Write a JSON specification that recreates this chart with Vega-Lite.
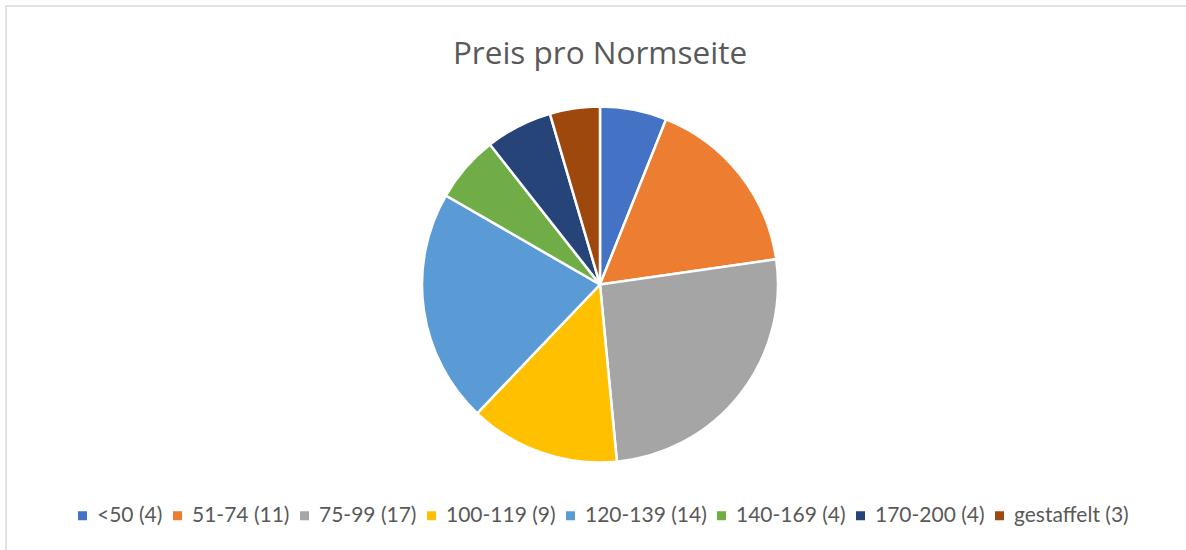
{
  "$schema": "https://vega.github.io/schema/vega-lite/v6.json",
  "width": 1188,
  "height": 557,
  "autosize": {"type": "none"},
  "padding": {"left": 6, "top": 6, "right": 0, "bottom": 0},
  "background": "white",
  "view": {"stroke": "#d9d9d9", "strokeWidth": 1.5},
  "title": {
    "text": "Preis pro Normseite",
    "orient": "top",
    "anchor": "middle",
    "offset": -64,
    "font": "Open Sans",
    "fontSize": 31.5,
    "fontWeight": "normal",
    "color": "#595959"
  },
  "data": {
    "values": [
      {"i": 1, "label": "<50 (4)", "n": 4},
      {"i": 2, "label": "51-74 (11)", "n": 11},
      {"i": 3, "label": "75-99 (17)", "n": 17},
      {"i": 4, "label": "100-119 (9)", "n": 9},
      {"i": 5, "label": "120-139 (14)", "n": 14},
      {"i": 6, "label": "140-169 (4)", "n": 4},
      {"i": 7, "label": "170-200 (4)", "n": 4},
      {"i": 8, "label": "gestaffelt (3)", "n": 3}
    ]
  },
  "mark": {"type": "arc", "radius": 178, "stroke": "white", "strokeWidth": 2.5},
  "encoding": {
    "theta": {"field": "n", "type": "quantitative", "stack": true},
    "order": {"field": "i", "type": "quantitative"},
    "color": {
      "field": "label",
      "type": "nominal",
      "sort": ["<50 (4)", "51-74 (11)", "75-99 (17)", "100-119 (9)", "120-139 (14)", "140-169 (4)", "170-200 (4)", "gestaffelt (3)"],
      "scale": {
        "domain": ["<50 (4)", "51-74 (11)", "75-99 (17)", "100-119 (9)", "120-139 (14)", "140-169 (4)", "170-200 (4)", "gestaffelt (3)"],
        "range": ["#4472C4", "#ED7D31", "#A5A5A5", "#FFC000", "#5B9BD5", "#70AD47", "#264478", "#9E480E"]
      },
      "legend": {
        "title": null,
        "orient": "none",
        "legendX": 66,
        "legendY": 499,
        "direction": "horizontal",
        "columns": 8,
        "symbolType": "square",
        "symbolSize": 81,
        "symbolStrokeWidth": 0,
        "labelFont": "Lato",
        "labelFontSize": 21,
        "labelColor": "#595959",
        "labelLimit": 300,
        "columnPadding": 4,
        "labelOffset": 4
      }
    }
  },
  "config": {
    "view": {"stroke": "#d9d9d9", "strokeWidth": 1.5}
  }
}
